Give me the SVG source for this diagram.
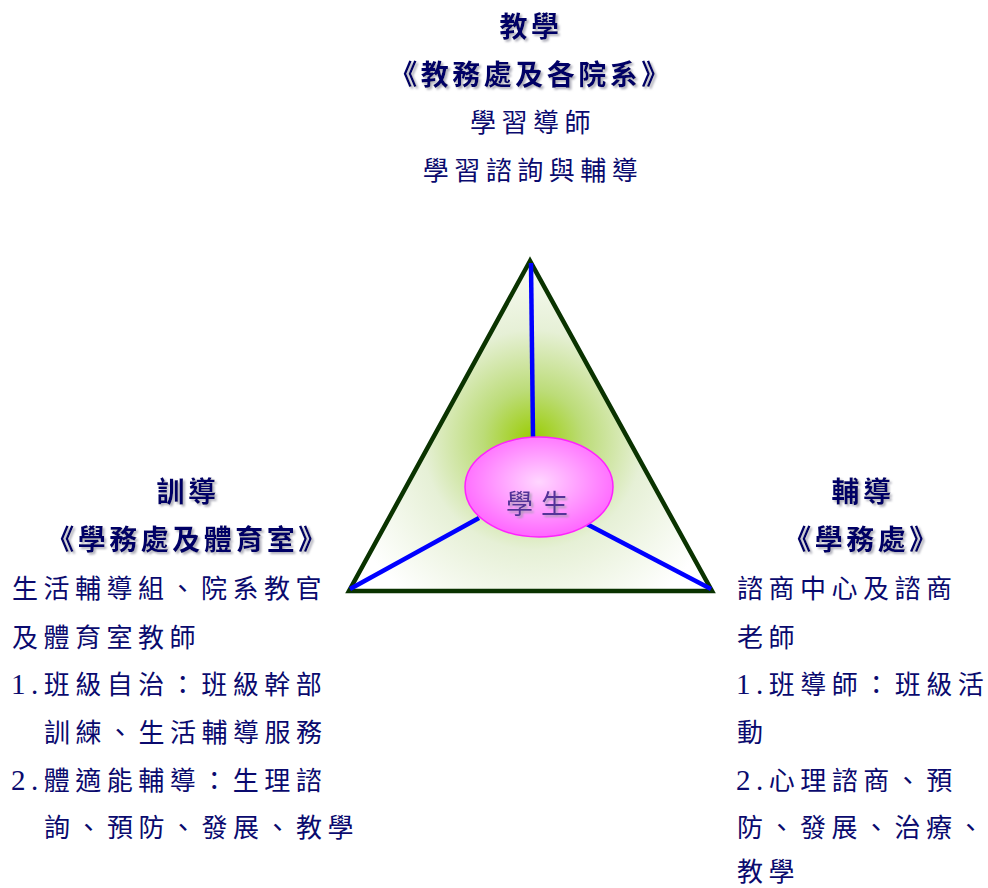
<svg xmlns="http://www.w3.org/2000/svg" width="988" height="888" viewBox="0 0 988 888">
<defs>
<radialGradient id="triFill" gradientUnits="userSpaceOnUse" cx="533" cy="440" r="200">
<stop offset="0" stop-color="#99cc00"/>
<stop offset="0.25" stop-color="#bcdc78"/>
<stop offset="0.55" stop-color="#e6f0d6"/>
<stop offset="1" stop-color="#ffffff"/>
</radialGradient>
<radialGradient id="ellFill" cx="0.5" cy="0.45" r="0.55">
<stop offset="0" stop-color="#ffd6ff"/>
<stop offset="1" stop-color="#ff66ff"/>
</radialGradient>
<filter id="shadow" x="-10%" y="-10%" width="130%" height="140%">
<feDropShadow dx="2" dy="2" stdDeviation="0.8" flood-color="#9a9aa8" flood-opacity="0.8"/>
</filter>
</defs>
<style>
text { font-family: "Noto Sans CJK TC", "Noto Sans CJK SC", sans-serif; }
.hd { font-size: 28px; font-weight: bold; fill: #000066; filter: url(#shadow); letter-spacing: 3.5px; }
.bd { font-size: 26px; fill: #0a0a6e; letter-spacing: 5.5px; }
.num { font-family: "Liberation Serif", serif; font-size: 29px; }
.conn { stroke: #0000ff; stroke-width: 4.5; fill: none; }
</style>
<rect width="988" height="888" fill="#ffffff"/>

<g id="triangle">
<polygon points="530,261 349,591 712,591" fill="url(#triFill)" stroke="#0a3300" stroke-width="4.5" stroke-linejoin="miter"/>
</g>

<g id="connectors">
<line class="conn" x1="531" y1="263" x2="533" y2="437"/>
<line class="conn" x1="350" y1="589" x2="479" y2="518"/>
<line class="conn" x1="581" y1="521" x2="711" y2="589"/>
</g>

<g id="student">
<ellipse cx="539" cy="487" rx="74" ry="50" fill="url(#ellFill)" stroke="#ff22ff" stroke-width="1.5"/>
<text x="541" y="514" text-anchor="middle" font-size="27" fill="#553399" letter-spacing="8" filter="url(#shadow)">學生</text>
</g>

<g id="teaching">
<text class="hd" x="531" y="37" text-anchor="middle">教學</text>
<text class="hd" x="531" y="85" text-anchor="middle">《教務處及各院系》</text>
<text class="bd" x="533" y="132" text-anchor="middle">學習導師</text>
<text class="bd" x="533" y="180" text-anchor="middle">學習諮詢與輔導</text>
</g>

<g id="discipline">
<text class="hd" x="188" y="502" text-anchor="middle">訓導</text>
<text class="hd" x="188" y="550" text-anchor="middle">《學務處及體育室》</text>
<text class="bd" x="12" y="598">生活輔導組、院系教官</text>
<text class="bd" x="12" y="647">及體育室教師</text>
<text class="bd" x="11" y="694"><tspan class="num">1.</tspan>班級自治：班級幹部</text>
<text class="bd" x="44" y="742">訓練、生活輔導服務</text>
<text class="bd" x="11" y="790"><tspan class="num">2.</tspan>體適能輔導：生理諮</text>
<text class="bd" x="44" y="837">詢、預防、發展、教學</text>
</g>

<g id="guidance">
<text class="hd" x="863" y="502" text-anchor="middle">輔導</text>
<text class="hd" x="862" y="550" text-anchor="middle">《學務處》</text>
<text class="bd" x="737" y="598">諮商中心及諮商</text>
<text class="bd" x="737" y="647">老師</text>
<text class="bd" x="736" y="694"><tspan class="num">1.</tspan>班導師：班級活</text>
<text class="bd" x="737" y="742">動</text>
<text class="bd" x="736" y="790"><tspan class="num">2.</tspan>心理諮商、預</text>
<text class="bd" x="737" y="837">防、發展、治療、</text>
<text class="bd" x="737" y="881">教學</text>
</g>
</svg>
